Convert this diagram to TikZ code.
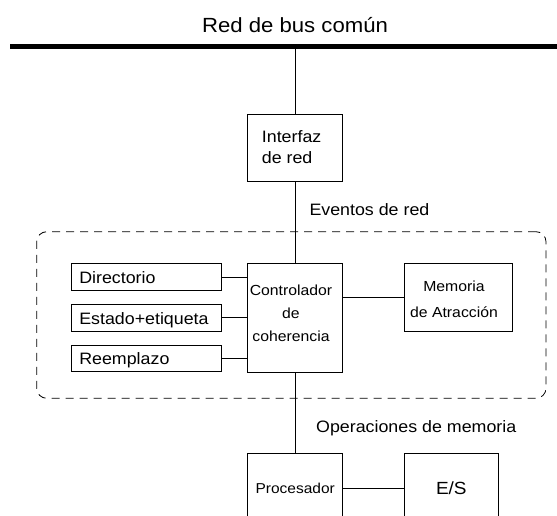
\documentclass[tikz,border=0pt]{standalone}
\usepackage{fontspec}
\setmainfont{Liberation Sans}[FakeStretch=1.08]
\newcommand\fsbig{\fontsize{16.5pt}{21pt}\selectfont}
\newcommand\fssmall{\fontsize{14.6pt}{23.3pt}\selectfont}
\newcommand\fstitle{\fontsize{20.5pt}{24pt}\selectfont}
\begin{document}
\begin{tikzpicture}[x=1pt,y=-1pt,
  box/.style={draw, line width=0.9pt, inner sep=0pt},
  leftbox/.style={box, text width=134.1pt, inner xsep=7.6pt, inner ysep=0pt, align=left,
    font=\fsbig, text height=13pt, text depth=0pt},
  txt/.style={inner sep=0pt},
  conn/.style={line width=0.9pt},
  groupbox/.style={draw, line width=0.8pt, dash pattern=on 8pt off 6pt, rounded corners=10pt, inner sep=0pt}
]
\useasboundingbox (0,0) rectangle (557,516);

% bus
\coordinate (busL) at (10,46.5);
\coordinate (busR) at (557,46.5);
\coordinate (bustap) at (295.2,46.5);
\draw[line width=4.4pt] (busL) -- (busR);
\node[txt, font=\fstitle, anchor=base] (title) at (295,32.7) {Red de bus común};

% network interface
\node[box, minimum width=95pt, minimum height=67.4pt] (iface) at (295.2,148) {};
\node[txt, font=\fsbig, align=left, anchor=north west] (ifacetext) at (261.7,130.4) {Interfaz\\de red};

\node[txt, font=\fsbig, anchor=base west] (evt) at (309.3,215) {Eventos de red};

% group
\node[groupbox, minimum width=509.3pt, minimum height=166.6pt] (group) at (291.35,315) {};

\node[leftbox, minimum height=27.4pt] (dir) at (146.35,277) {Directorio};
\node[leftbox, minimum height=26.7pt] (est) at (146.35,317.65) {Estado+etiqueta};
\node[leftbox, minimum height=26.7pt] (rep) at (146.35,358.35) {Reemplazo};

\node[box, minimum width=95pt, minimum height=109pt] (ctrl) at (295.2,317.8) {};
\node[txt, font=\fssmall, align=center, anchor=north] (ctrltext) at (291,284.5) {Controlador\\de\\coherencia};

\node[box, minimum width=108.3pt, minimum height=67.7pt] (mem) at (458.15,297.15) {};
\node[txt, font={\fontsize{14.6pt}{26.3pt}\selectfont}, align=center, anchor=north] (memtext) at (454,280.5) {Memoria\\de Atracción};

\node[txt, font=\fsbig, anchor=base west] (ops) at (316,432.7) {Operaciones de memoria};

\node[box, minimum width=95pt, minimum height=69.4pt, font={\fontsize{14.35pt}{17pt}\selectfont}, text height=10.5pt, text depth=0pt] (proc) at (295.2,488) {Procesador};
\node[box, minimum width=94.7pt, minimum height=69.4pt, font={\fontsize{17.6pt}{20pt}\selectfont}, text height=12.6pt, text depth=0pt] (es) at (451.35,488) {E/S};

% connectors
\draw[conn] (bustap) -- (iface.north);
\draw[conn] (iface.south) -- (ctrl.north);
\draw[conn] (ctrl.south) -- (proc.north);
\draw[conn] (dir.east) -- (dir.east -| ctrl.west);
\draw[conn] (est.east) -- (est.east -| ctrl.west);
\draw[conn] (rep.east) -- (rep.east -| ctrl.west);
\draw[conn] (ctrl.east |- mem.west) -- (mem.west);
\draw[conn] (proc.east) -- (es.west);
\end{tikzpicture}
\end{document}
